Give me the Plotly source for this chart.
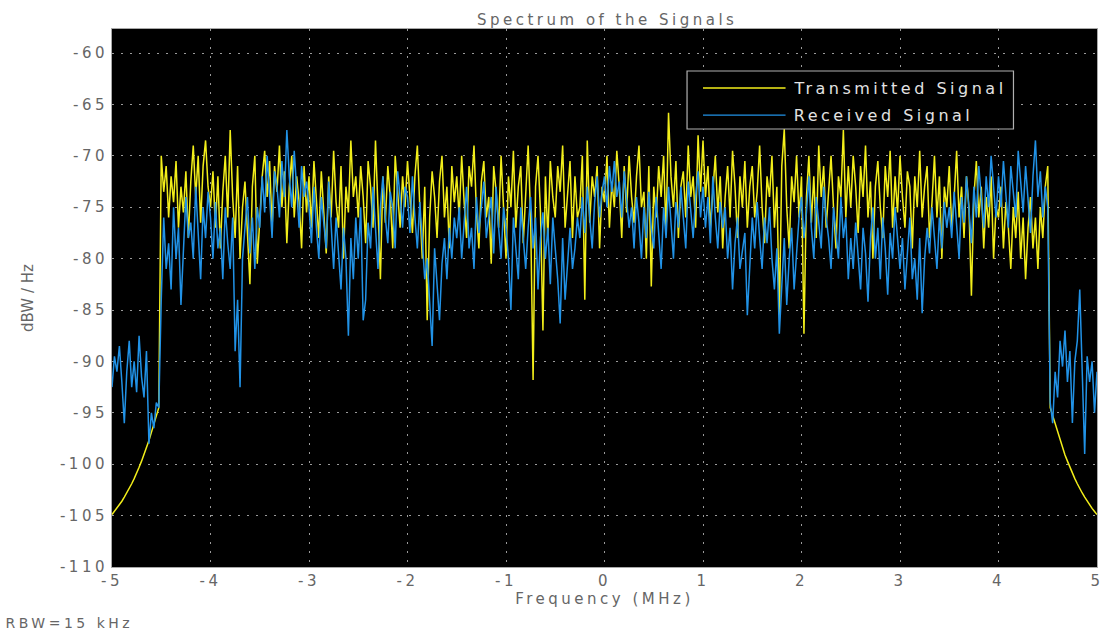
import numpy as np
import plotly.graph_objects as go

# Frequency bins (MHz): 401 bins from -5 to 5 (0.025 MHz spacing)
F_START, F_STOP, N_BINS = -5.0, 5.0, 401
freq = np.linspace(F_START, F_STOP, N_BINS)

# ---------------- Transmitted signal (dBW/Hz) ----------------
tx_left = [-104.9, -104.6, -104.3, -104.0, -103.6, -103.2, -102.8, -102.4, -101.9, -101.4,
           -100.9, -100.3, -99.7, -99.1, -98.4, -97.7, -96.9, -96.1, -95.3, -94.5]
tx_band = [
    -70, -73.5, -71, -76, -72, -74.5, -70.5, -77, -73, -75.5, -71.5, -78, -72.5, -69, -74, -70, -76.5, -71, -68.5, -73,
    -75, -71.5, -77, -72, -79, -73.5, -70, -76, -67.5, -74, -78, -71, -80, -75, -72.5, -77.5, -82.5, -73, -70, -80.5,
    -76, -72, -69.5, -74, -70.5, -77, -71, -73.5, -69, -75, -71.5, -78.5, -73, -70, -76, -72, -74.5, -79, -71, -75.5,
    -72, -77, -70.5, -74, -78, -71.5, -75, -79.5, -72, -76, -69.5, -74.5, -77, -71, -80, -73, -75.5, -68.5, -74, -72,
    -76, -71, -74, -78.5, -70.5, -73, -77, -68.5, -75, -82, -72, -76.5, -71, -74, -79, -70, -73.5, -77, -72, -75,
    -70.5, -74, -77.5, -72, -69, -75, -80, -73, -86, -76, -71.5, -74, -78, -72.5, -70, -76, -73, -79, -71, -74.5,
    -72, -76, -70, -74.5, -78, -71, -73, -69, -75.5, -79, -72.5, -70.5, -76, -74, -80.5, -71, -73.5, -77, -70, -75,
    -80, -72, -75, -69.5, -77, -73, -71, -78.5, -74, -69, -76, -91.8, -73, -70, -75.5, -87, -72, -78, -70.5, -74,
    -76, -71, -73.5, -69, -77, -74, -70.5, -78, -72, -76, -75, -70, -84, -68.5, -76.5, -72, -74, -71, -79, -73,
    -74.5, -70, -77, -72.5, -75, -69.5, -73, -78, -71, -75.5, -70, -74, -76.5, -72, -69, -75, -73.5, -80, -71, -82.7,
    -73, -76, -71, -74, -70, -77.5, -65.8, -72, -75, -70.5, -78, -73, -71.5, -76, -69, -74, -72, -77, -68, -73.5,
    -68.5, -74, -71, -77, -73, -70, -75.5, -72, -79, -74, -71, -76, -69.5, -73, -78, -72, -75, -70.5, -77, -73,
    -71, -76, -73.5, -69, -75, -78.5, -72, -74, -70, -77, -73, -85.5, -71, -67.4, -75, -79, -72, -74.5, -70, -76,
    -72, -87.3, -74, -70, -76.5, -72, -78, -69, -74, -71, -77, -73.5, -70, -75, -79, -72, -74, -67.5, -76, -71,
    -75, -70, -73, -77.5, -71, -74, -69, -76, -72.5, -80, -73, -70.5, -75, -78, -71, -74, -69.5, -77, -72, -75.5,
    -70, -74, -77, -71.5, -73, -79, -72, -75, -69.5, -76, -73, -71, -78, -74.5, -70, -76, -72, -80, -73, -75,
    -71, -77, -74, -69.5, -76, -73, -78, -72, -75, -83.6, -74, -70.5, -76, -73, -79, -74, -77, -72, -80, -75,
    -76, -73, -79, -74.5, -77, -81, -75, -78, -73.5, -80, -76, -82, -77, -74, -79, -76, -81, -75, -78, -73,
    -71,
]
tx_right = [-94.5, -95.3, -96.1, -96.9, -97.7, -98.4, -99.1, -99.7, -100.3, -100.9,
            -101.4, -101.9, -102.4, -102.8, -103.2, -103.6, -104.0, -104.3, -104.6, -104.9]

# ---------------- Received signal (dBW/Hz) ----------------
rx_left = [-92.5, -89.5, -91, -88.5, -92, -96, -91, -88, -92.5, -90,
           -93, -87.5, -91.5, -93.5, -89, -98, -95, -96.5, -94, -94.5]
rx_band = [
    -84, -76, -81, -78.5, -83, -75, -80, -77, -84.5, -79, -74, -78, -76.5, -80, -73, -77.5, -82, -75, -78, -73.5,
    -76, -80, -74.5, -79, -77, -82, -75, -78.5, -81, -76, -89, -84, -92.5, -80, -77, -74, -79.5, -76, -81, -75,
    -77, -72, -75.5, -70, -74, -78, -71.5, -73, -76, -70.5, -74, -67.5, -72, -75, -69.5, -73.5, -77, -71, -74, -72.5,
    -75, -78.5, -73, -77, -80, -74, -76.5, -79, -72.5, -77, -81, -76, -79.5, -83, -77, -80, -87.5, -78, -82, -76,
    -80, -75, -86, -84, -76.5, -79, -73, -77.5, -81, -75, -72, -76, -78.5, -73.5, -75, -79, -71.5, -74, -77, -73,
    -74, -77.5, -72, -76, -79, -74.5, -78, -82, -80, -84, -88.5, -79, -83, -86, -80.5, -78, -82, -77, -80, -76,
    -78, -75, -80, -76.5, -73, -79, -77, -81, -74, -77.5, -75, -72.5, -78, -76, -74, -79.5, -73, -77, -80, -75,
    -77, -80, -85, -76, -79, -82, -75, -78.5, -81, -77, -74, -79, -76, -83, -78, -75.5, -80, -77, -82.5, -76,
    -79, -82, -86.3, -78, -84, -80.5, -77, -81, -79, -76, -78, -74, -77.5, -73, -76, -79, -74.5, -72, -76, -73.5,
    -72, -75, -71, -73.5, -70.5, -74, -72.5, -76, -71.5, -74, -77, -75, -79, -74, -76.5, -80, -75, -78, -73.5, -77,
    -79, -74, -77.5, -81, -75, -78, -73, -76.5, -80, -74.5, -77, -73, -76, -79, -72.5, -75, -78, -74, -71.5, -76,
    -73, -77, -74, -78.5, -72, -76, -79, -74.5, -77, -75, -80, -77, -83, -78.5, -76, -81, -79, -77.5, -85.5, -80,
    -76, -79, -74.5, -78, -81, -76, -78.5, -75, -80, -83, -79, -87.3, -82, -78, -84.5, -80, -77, -83, -79.5, -76,
    -74, -78, -75.5, -72, -77, -80, -74, -76.5, -79, -73, -76, -78, -81, -75, -77.5, -80, -74, -78, -76, -82,
    -78, -81, -76.5, -80, -83, -77, -79.5, -84.2, -78, -75, -80, -77, -82, -76, -79, -83.5, -77.5, -80, -75, -78,
    -81, -78, -83, -79.5, -76, -82, -80, -84, -78, -85.3, -80, -77, -79.5, -75, -78, -81, -76, -79, -74.5, -77,
    -75, -78, -73.5, -77, -80, -74, -76.5, -72, -75, -78.5, -73, -76, -71, -74.5, -77, -72, -75, -70, -73.5, -76,
    -72, -75, -70.5, -74, -77, -71, -73.5, -76, -69.5, -73, -75.5, -71, -74, -77.5, -72, -68.5, -74, -71.5, -76, -73,
    -75,
]
rx_right = [-94, -96, -91, -93.5, -88, -90.5, -87, -92, -89, -96,
            -90, -88, -83, -91, -99, -89.5, -92, -90, -95, -91]

tx = tx_left + tx_band + tx_right
rx = rx_left + rx_band + rx_right

# Axis ticks
x_ticks = [-5, -4, -3, -2, -1, 0, 1, 2, 3, 4, 5]
x_ticklabels = ["-5", "-4", "-3", "-2", "-1", "0", "1", "2", "3", "4", "5"]
y_ticks = [-110, -105, -100, -95, -90, -85, -80, -75, -70, -65, -60]
y_ticklabels = ["-110", "-105", "-100", "-95", "-90", "-85", "-80", "-75", "-70", "-65", "-60"]

series_names = ["Transmitted Signal", "Received Signal"]

YELLOW = "#f2ee1a"
BLUE = "#2192e6"
FONT = "DejaVu Sans, Liberation Sans, sans-serif"
TXT = "#666666"
LETTER_SPACING = 3.5  # px, the reference lettering is widely spaced

fig = go.Figure()
fig.add_trace(go.Scatter(x=freq, y=tx, mode="lines", name=series_names[0],
                         line=dict(color=YELLOW, width=1.5), showlegend=False))
fig.add_trace(go.Scatter(x=freq, y=rx, mode="lines", name=series_names[1],
                         line=dict(color=BLUE, width=1.5), showlegend=False))

axis_common = dict(
    showgrid=True, gridcolor="#9a9a9a", griddash="2px,7px", gridwidth=1,
    showline=True, linecolor="#a8a8a8", linewidth=1, mirror=True,
    ticks="", tickfont=dict(family=FONT, size=15, color=TXT),
    zeroline=False,
)

fig.update_layout(
    width=1110, height=641,
    paper_bgcolor="white", plot_bgcolor="black",
    margin=dict(l=112, r=8, t=29, b=74),
    title=dict(text="Spectrum of the Signals", x=0.547, xanchor="center",
               y=0.969, yanchor="middle",
               font=dict(family=FONT, size=15, color=TXT)),
    xaxis=dict(range=[-5, 5], tickvals=x_ticks, ticktext=x_ticklabels,
               title=dict(text="Frequency (MHz)", standoff=0,
                          font=dict(family=FONT, size=15, color=TXT)),
               **axis_common),
    yaxis=dict(range=[-110, -57.66], tickvals=y_ticks, ticktext=y_ticklabels,
               title=dict(text="dBW / Hz", standoff=36,
                          font=dict(family=FONT, size=15, color=TXT)),
               **axis_common),
    showlegend=False,
)

# Legend box drawn in the MATLAB style (black box, light border, long line samples)
LEG_X0, LEG_X1, LEG_Y0, LEG_Y1 = 0.5838, 0.9152, 0.8141, 0.9219
LINE_X0, LINE_X1, TEXT_X = 0.600, 0.6838, 0.6899
ROW_Y = [0.8903, 0.8401]
fig.add_shape(type="rect", xref="paper", yref="paper", x0=LEG_X0, x1=LEG_X1, y0=LEG_Y0, y1=LEG_Y1,
              fillcolor="black", line=dict(color="#b0b0b0", width=1.2), layer="above")
for name, col, yy in zip(series_names, [YELLOW, BLUE], ROW_Y):
    fig.add_shape(type="line", xref="paper", yref="paper", x0=LINE_X0, x1=LINE_X1, y0=yy, y1=yy,
                  line=dict(color=col, width=1.3), layer="above")
    fig.add_annotation(text=name, xref="paper", yref="paper", x=TEXT_X, y=yy,
                       xanchor="left", yanchor="middle", showarrow=False,
                       xshift=LETTER_SPACING * len(name) / 2,
                       font=dict(family=FONT, size=16, color="#e2e2e2"))

rbw_text = "RBW=15 kHz"
fig.add_annotation(text=rbw_text, xref="paper", yref="paper", x=-0.1101, y=-0.1041,
                   xanchor="left", yanchor="middle", showarrow=False,
                   xshift=LETTER_SPACING * len(rbw_text) / 2,
                   font=dict(family=FONT, size=14, color=TXT))

post = """
var gd = document.getElementById('{plot_id}');
gd.querySelectorAll('text').forEach(function(t){
  if (t.closest('.g-ytitle')) return;
  t.style.letterSpacing = '%spx';
});
""" % LETTER_SPACING
fig.write_html("out.html", post_script=post)
